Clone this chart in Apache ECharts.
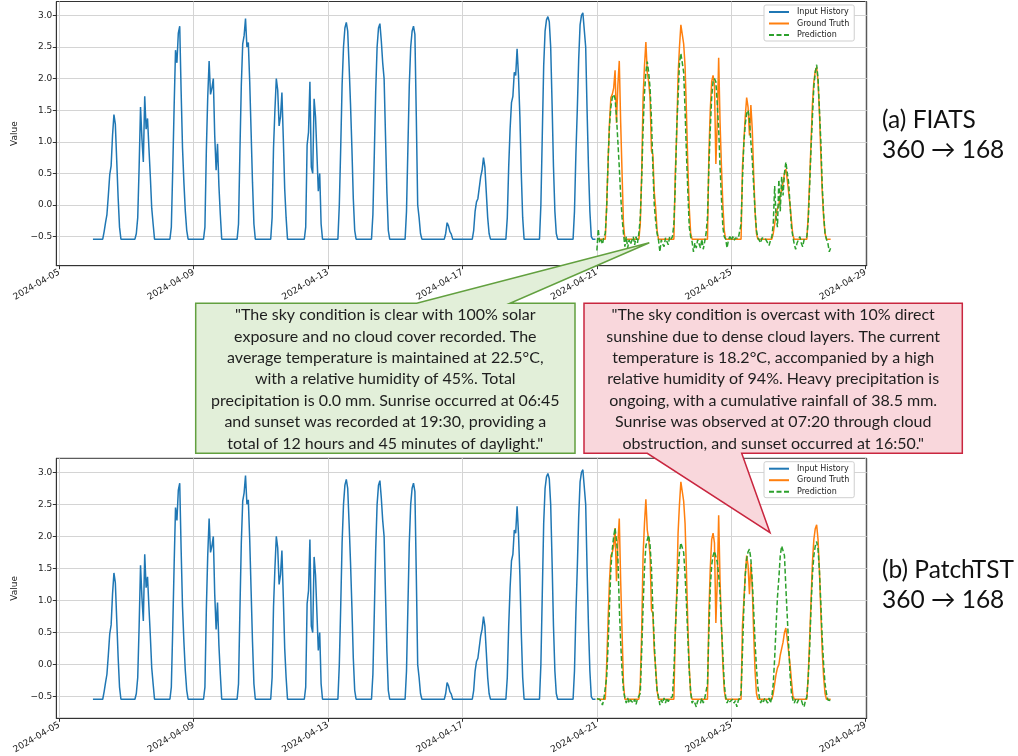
<!DOCTYPE html>
<html>
<head>
<meta charset="utf-8">
<title>FIATS vs PatchTST, 360 -> 168</title>
<script src="https://cdn.jsdelivr.net/npm/echarts@6/dist/echarts.min.js"></script>
<style>
  html, body { margin: 0; padding: 0; background: #fff; }
  #chart { width: 1018px; height: 756px; }
</style>
</head>
<body>
<div id="chart"></div>
<script>
// x values are hours since 2024-04-06 00:00 (hourly series)
const xTickHours = [-24, 72, 168, 264, 360, 456, 552];
const xTickLabels = ['2024-04-05', '2024-04-09', '2024-04-13', '2024-04-17', '2024-04-21', '2024-04-25', '2024-04-29'];
const yTicks = [-0.5, 0, 0.5, 1, 1.5, 2, 2.5, 3];
const seriesNames = ['Input History', 'Ground Truth', 'Prediction'];

// input history, 360 h (vertices of the drawn line)
const inputHistory = [
  [0, -0.54], [7, -0.54], [8, -0.42], [9, -0.28], [10, -0.15], [11, 0.15], [12, 0.48], [13, 0.62], [14, 1.1], [15, 1.43], [16, 1.28], [17, 0.7], [18, 0.12], [19, -0.35], [20, -0.54],
  [30, -0.54], [31, -0.45], [32, -0.2], [33, 0.6], [34, 1.55], [35, 1.05], [36, 0.68], [37, 1.72], [38, 1.2], [39, 1.37], [40, 0.9], [41, 0.45], [42, -0.05], [43, -0.3], [44, -0.54],
  [55, -0.54], [56, -0.35], [57, 0.55], [58, 1.55], [59, 2.45], [60, 2.25], [61, 2.72], [62, 2.83], [63, 1.8], [64, 0.9], [65, 0.35], [66, -0.1], [67, -0.4], [68, -0.54],
  [79, -0.54], [80, -0.35], [81, 0.85], [82, 1.7], [83, 2.28], [84, 1.75], [85, 1.85], [86, 2.0], [87, 1.1], [88, 0.55], [89, 0.97], [90, 0.3], [91, -0.15], [92, -0.54],
  [103, -0.54], [104, -0.3], [105, 0.85], [106, 1.9], [107, 2.55], [108, 2.68], [109, 2.95], [110, 2.5], [111, 2.57], [112, 1.95], [113, 1.15], [114, 0.35], [115, -0.3], [116, -0.54],
  [127, -0.54], [128, -0.2], [129, 0.9], [130, 1.5], [131, 2.0], [132, 1.82], [133, 1.25], [134, 1.4], [135, 1.78], [136, 1.05], [137, 0.25], [138, -0.2], [139, -0.54],
  [151, -0.54], [152, -0.35], [153, 0.95], [154, 1.15], [155, 1.95], [156, 0.6], [157, 0.5], [158, 1.68], [159, 1.4], [160, 1.43], [161, 0.22], [162, 0.5], [163, -0.3], [164, -0.54],
  [175, -0.54], [176, 0.0], [177, 0.9], [178, 1.9], [179, 2.5], [180, 2.8], [181, 2.89], [182, 2.75], [183, 2.2], [184, 1.6], [185, 0.9], [186, 0.1], [187, -0.4], [188, -0.54],
  [199, -0.54], [200, -0.15], [201, 0.8], [202, 1.8], [203, 2.5], [204, 2.8], [205, 2.87], [206, 2.6], [207, 2.25], [208, 2.0], [209, 1.1], [210, 0.2], [211, -0.4], [212, -0.54],
  [223, -0.54], [224, -0.1], [225, 0.9], [226, 1.9], [227, 2.5], [228, 2.75], [229, 2.83], [230, 2.7], [231, 1.4], [232, 0.0], [233, -0.2], [234, -0.45], [235, -0.54],
  [251, -0.54], [252, -0.45], [253, -0.28], [254, -0.33], [255, -0.42], [256, -0.46], [257, -0.54],
  [271, -0.54], [272, -0.4], [273, -0.1], [274, 0.05], [275, 0.1], [276, 0.13], [277, 0.45], [278, 0.55], [279, 0.75], [280, 0.6], [281, 0.2], [282, -0.2], [283, -0.45], [284, -0.54],
  [295, -0.54], [296, -0.2], [297, 0.6], [298, 1.2], [299, 1.62], [300, 1.72], [301, 2.1], [302, 2.05], [303, 2.47], [304, 2.05], [305, 1.4], [306, 0.5], [307, -0.2], [308, -0.54],
  [319, -0.54], [320, 0.0], [321, 1.1], [322, 2.2], [323, 2.75], [324, 2.93], [325, 2.98], [326, 2.9], [327, 2.5], [328, 1.6], [329, 0.6], [330, -0.1], [331, -0.45], [332, -0.54],
  [343, -0.54], [344, -0.1], [345, 0.8], [346, 1.5], [347, 2.3], [348, 2.85], [349, 3.0], [350, 3.04], [351, 3.02], [352, 2.5], [353, 1.5], [354, 0.6], [355, -0.1], [356, -0.5], [357, -0.54], [359, -0.54]
];

// ground truth, next 168 h (same in both panels)
const groundTruth = [
  [360, -0.54], [366, -0.54], [367, 0.0], [368, 0.7], [369, 1.3], [370, 1.7], [371, 1.75], [372, 1.85], [373, 2.13], [374, 1.3], [375, 1.9], [376, 2.28], [377, 1.3], [378, 0.5], [379, -0.3], [380, -0.54],
  [390, -0.54], [391, -0.3], [392, 0.5], [393, 1.7], [394, 2.2], [395, 2.58], [396, 2.1], [397, 1.95], [398, 1.7], [399, 0.85], [400, 0.8], [401, 0.2], [402, -0.05], [403, -0.4], [404, -0.54],
  [415, -0.54], [416, 0.5], [417, 1.1], [418, 2.05], [419, 2.5], [420, 2.85], [421, 2.7], [422, 2.55], [423, 2.2], [424, 1.45], [425, 0.6], [426, -0.05], [427, -0.45], [428, -0.54],
  [439, -0.54], [440, 0.8], [441, 1.5], [442, 1.95], [443, 2.05], [444, 1.9], [445, 0.65], [446, 1.3], [447, 2.33], [448, 1.3], [449, 0.6], [450, 0.0], [451, -0.4], [452, -0.54],
  [463, -0.54], [464, 0.6], [465, 1.0], [466, 1.4], [467, 1.7], [468, 1.55], [469, 1.1], [470, 1.58], [471, 1.2], [472, 0.5], [473, -0.1], [474, -0.45], [475, -0.54],
  [485, -0.54], [486, -0.45], [487, -0.3], [488, -0.15], [489, -0.05], [490, 0.0], [491, 0.15], [492, 0.25], [493, 0.35], [494, 0.5], [495, 0.57], [496, 0.4], [497, 0.2], [498, 0.0], [499, -0.25], [500, -0.48], [501, -0.54],
  [510, -0.54], [511, -0.15], [512, 0.4], [513, 1.0], [514, 1.6], [515, 1.95], [516, 2.12], [517, 2.18], [518, 1.95], [519, 1.45], [520, 0.8], [521, 0.2], [522, -0.2], [523, -0.45], [524, -0.54], [527, -0.54]
];

// (a) FIATS prediction
const predFiats = [
  [360, -0.72], [361, -0.38], [362, -0.6], [363, -0.55], [364, -0.62], [365, -0.5], [366, -0.45], [367, -0.05], [368, 0.7], [369, 1.25], [370, 1.55], [371, 1.7], [372, 1.75], [373, 1.68], [374, 1.4], [375, 1.0], [376, 0.6], [377, 0.15], [378, -0.2], [379, -0.45], [380, -0.66], [381, -0.5], [382, -0.68], [383, -0.55], [384, -0.62],
  [385, -0.6], [386, -0.5], [387, -0.63], [388, -0.5], [389, -0.6], [390, -0.45], [391, -0.2], [392, 0.4], [393, 1.2], [394, 1.77], [395, 2.1], [396, 2.27], [397, 2.1], [398, 1.85], [399, 1.35], [400, 0.6], [401, 0.0], [402, -0.25], [403, -0.45], [404, -0.55], [405, -0.74], [406, -0.55], [407, -0.62], [408, -0.66],
  [409, -0.52], [410, -0.55], [411, -0.63], [412, -0.5], [413, -0.54], [414, -0.5], [415, -0.3], [416, 0.3], [417, 1.2], [418, 1.7], [419, 2.25], [420, 2.4], [421, 2.42], [422, 2.1], [423, 1.5], [424, 0.8], [425, 0.2], [426, -0.35], [427, -0.5], [428, -0.58], [429, -0.74], [430, -0.6], [431, -0.68], [432, -0.55],
  [433, -0.58], [434, -0.68], [435, -0.54], [436, -0.7], [437, -0.58], [438, -0.45], [439, -0.2], [440, 0.6], [441, 1.2], [442, 1.7], [443, 1.95], [444, 2.0], [445, 1.95], [446, 1.6], [447, 1.2], [448, 0.6], [449, 0.1], [450, -0.35], [451, -0.5], [452, -0.54], [453, -0.68], [454, -0.55], [455, -0.5], [456, -0.56],
  [457, -0.5], [458, -0.56], [459, -0.52], [460, -0.54], [461, -0.53], [462, -0.5], [463, -0.3], [464, 0.4], [465, 0.98], [466, 1.28], [467, 1.45], [468, 1.5], [469, 1.35], [470, 1.0], [471, 0.72], [472, 0.3], [473, -0.1], [474, -0.4], [475, -0.52], [476, -0.55], [477, -0.6], [478, -0.52], [479, -0.55], [480, -0.52],
  [481, -0.54], [482, -0.6], [483, -0.64], [484, -0.56], [485, -0.5], [486, -0.3], [487, 0.3], [488, -0.2], [489, -0.35], [490, 0.4], [491, -0.1], [492, 0.45], [493, 0.15], [494, 0.5], [495, 0.68], [496, 0.66], [497, 0.35], [498, 0.0], [499, -0.35], [500, -0.5], [501, -0.62], [502, -0.7], [503, -0.6], [504, -0.55],
  [505, -0.5], [506, -0.6], [507, -0.66], [508, -0.55], [509, -0.53], [510, -0.5], [511, -0.25], [512, 0.3], [513, 0.9], [514, 1.4], [515, 1.88], [516, 2.1], [517, 2.22], [518, 2.0], [519, 1.5], [520, 1.0], [521, 0.3], [522, -0.15], [523, -0.45], [524, -0.54], [525, -0.6], [526, -0.74], [527, -0.68]
];

// (b) PatchTST prediction
const predPatch = [
  [360, -0.53], [361, -0.52], [362, -0.54], [363, -0.55], [364, -0.63], [365, -0.53], [366, -0.5], [367, -0.2], [368, 0.3], [369, 0.9], [370, 1.5], [371, 1.8], [372, 2.0], [373, 2.13], [374, 1.94], [375, 1.68], [376, 0.9], [377, 0.35], [378, -0.1], [379, -0.4], [380, -0.52], [381, -0.6], [382, -0.52], [383, -0.6], [384, -0.55],
  [385, -0.52], [386, -0.6], [387, -0.54], [388, -0.62], [389, -0.53], [390, -0.5], [391, -0.45], [392, 0.2], [393, 0.9], [394, 1.5], [395, 1.85], [396, 1.95], [397, 2.02], [398, 1.86], [399, 1.5], [400, 0.85], [401, 0.35], [402, -0.1], [403, -0.4], [404, -0.5], [405, -0.63], [406, -0.55], [407, -0.6], [408, -0.52],
  [409, -0.6], [410, -0.52], [411, -0.58], [412, -0.53], [413, -0.55], [414, -0.5], [415, -0.1], [416, 0.5], [417, 1.0], [418, 1.4], [419, 1.75], [420, 1.9], [421, 1.92], [422, 1.75], [423, 1.4], [424, 0.95], [425, 0.4], [426, -0.1], [427, -0.42], [428, -0.6], [429, -0.56], [430, -0.6], [431, -0.66], [432, -0.56],
  [433, -0.55], [434, -0.6], [435, -0.52], [436, -0.6], [437, -0.53], [438, -0.5], [439, -0.3], [440, 0.5], [441, 1.2], [442, 1.55], [443, 1.7], [444, 1.77], [445, 1.75], [446, 1.6], [447, 1.4], [448, 1.1], [449, 0.6], [450, 0.15], [451, -0.3], [452, -0.5], [453, -0.6], [454, -0.54], [455, -0.58], [456, -0.55],
  [457, -0.54], [458, -0.6], [459, -0.56], [460, -0.66], [461, -0.56], [462, -0.52], [463, -0.45], [464, 0.2], [465, 0.9], [466, 1.4], [467, 1.65], [468, 1.76], [469, 1.8], [470, 1.65], [471, 1.3], [472, 0.85], [473, 0.35], [474, -0.05], [475, -0.35], [476, -0.5], [477, -0.6], [478, -0.54], [479, -0.58], [480, -0.52],
  [481, -0.54], [482, -0.6], [483, -0.52], [484, -0.6], [485, -0.5], [486, -0.3], [487, 0.1], [488, 0.6], [489, 1.05], [490, 1.35], [491, 1.7], [492, 1.85], [493, 1.87], [494, 1.7], [495, 1.2], [496, 0.75], [497, 0.3], [498, -0.15], [499, -0.45], [500, -0.55], [501, -0.6], [502, -0.54], [503, -0.6], [504, -0.55],
  [505, -0.58], [506, -0.55], [507, -0.62], [508, -0.66], [509, -0.56], [510, -0.5], [511, -0.2], [512, 0.25], [513, 0.9], [514, 1.4], [515, 1.7], [516, 1.85], [517, 1.92], [518, 1.8], [519, 1.45], [520, 0.95], [521, 0.4], [522, 0.0], [523, -0.3], [524, -0.45], [525, -0.55], [526, -0.58], [527, -0.56]
];

const greenNote = [
  '"The sky condition is clear with 100% solar',
  'exposure and no cloud cover recorded. The',
  'average temperature is maintained at 22.5°C,',
  'with a relative humidity of 45%. Total',
  'precipitation is 0.0 mm. Sunrise occurred at 06:45',
  'and sunset was recorded at 19:30, providing a',
  'total of 12 hours and 45 minutes of daylight."'
];
const redNote = [
  '"The sky condition is overcast with 10% direct',
  'sunshine due to dense cloud layers. The current',
  'temperature is 18.2°C, accompanied by a high',
  'relative humidity of 94%. Heavy precipitation is',
  'ongoing, with a cumulative rainfall of 38.5 mm.',
  'Sunrise was observed at 07:20 through cloud',
  'obstruction, and sunset occurred at 16:50."'
];
const panelLabels = [['(a) FIATS', '360 \u2192 168'], ['(b) PatchTST', '360 \u2192 168']];

const tickFont = { fontFamily: 'DejaVu Sans', fontSize: 9, color: '#222' };
const gridColor = '#d4d4d4';

function makeXAxis(i) {
  return {
    type: 'value', gridIndex: i, min: -26.17, max: 552.75,
    axisLine: { show: true, onZero: false, lineStyle: { color: '#333', width: 1 } },
    axisTick: { show: true, customValues: xTickHours, length: 3.5, lineStyle: { color: '#333' } },
    axisLabel: Object.assign({
      customValues: xTickHours, rotate: 30, margin: 6,
      formatter: function (v) { return xTickLabels[xTickHours.indexOf(v)] || ''; }
    }, tickFont),
    splitLine: { show: true, lineStyle: { color: gridColor, width: 1 } }
  };
}

function makeYAxis(i, min, max) {
  return {
    type: 'value', gridIndex: i, min: min, max: max,
    name: 'Value', nameLocation: 'middle', nameGap: 35,
    nameTextStyle: { fontFamily: 'DejaVu Sans', fontSize: 9, color: '#222' },
    axisLine: { show: true, onZero: false, lineStyle: { color: '#333', width: 1 } },
    axisTick: { show: true, customValues: yTicks, length: 3.5, lineStyle: { color: '#333' } },
    axisLabel: Object.assign({
      customValues: yTicks, margin: 4,
      formatter: function (v) { return v.toFixed(1).replace('-', '\u2212'); }
    }, tickFont),
    splitLine: { show: true, lineStyle: { color: gridColor, width: 1 } }
  };
}

function makeLine(name, data, i, color, dashed) {
  return {
    name: name, type: 'line', xAxisIndex: i, yAxisIndex: i, data: data,
    symbol: 'none', showSymbol: false, silent: true,
    lineStyle: { color: color, width: 1.5, type: dashed ? [5, 2.5] : 'solid' },
    itemStyle: { color: color }
  };
}

function makeLegend(top) {
  return {
    data: seriesNames, orient: 'vertical', left: 764, top: top,
    padding: [3, 5, 2, 4], itemWidth: 20, itemHeight: 8, itemGap: 3.5,
    borderColor: '#cfcfcf', borderWidth: 1, borderRadius: 2, backgroundColor: '#fff',
    selectedMode: false,
    itemStyle: { opacity: 0 },
    textStyle: { fontFamily: 'DejaVu Sans', fontSize: 8, color: '#222', padding: [0, 0, 0, 3] }
  };
}

function noteTexts(lines, cx, y0) {
  return lines.map(function (t, k) {
    return {
      type: 'text', x: cx, y: y0 + k * 21.4, z: 101,
      style: { text: t, font: '16px Lato', fill: '#1e1e1e', align: 'center', verticalAlign: 'middle' }
    };
  });
}

function panelText(lines, y0) {
  return lines.map(function (t, k) {
    return {
      type: 'text', x: 882, y: y0 + k * 30, z: 101,
      style: { text: t, font: '24.5px Lato', fill: '#111', align: 'left', verticalAlign: 'middle' }
    };
  });
}

const chart = echarts.init(document.getElementById('chart'), null, { renderer: 'canvas' });

chart.setOption({
  animation: false,
  backgroundColor: '#fff',
  grid: [
    { left: 56.3, top: 1.5, width: 810.4, height: 264.2, show: true, borderColor: '#333', borderWidth: 1 },
    { left: 56.3, top: 458.3, width: 810.4, height: 260, show: true, borderColor: '#333', borderWidth: 1 }
  ],
  xAxis: [makeXAxis(0), makeXAxis(1)],
  yAxis: [makeYAxis(0, -0.96, 3.22), makeYAxis(1, -0.837, 3.218)],
  legend: [makeLegend(5), makeLegend(461.7)],
  series: [
    makeLine(seriesNames[0], inputHistory, 0, '#1f77b4', false),
    makeLine(seriesNames[1], groundTruth, 0, '#ff7f0e', false),
    makeLine(seriesNames[2], predFiats, 0, '#2ca02c', true),
    makeLine(seriesNames[0], inputHistory, 1, '#1f77b4', false),
    makeLine(seriesNames[1], groundTruth, 1, '#ff7f0e', false),
    makeLine(seriesNames[2], predPatch, 1, '#2ca02c', true)
  ],
  graphic: {
    elements: [
      {
        type: 'polygon', z: 100,
        shape: { points: [[195.7, 303.3], [416.7, 303.3], [649.3, 242.7], [510, 303.3], [575, 303.3], [575, 453.3], [195.7, 453.3]] },
        style: { fill: '#e2efd9', stroke: '#62a03f', lineWidth: 1.5 }
      },
      {
        type: 'polygon', z: 100,
        shape: { points: [[584, 303.3], [962.3, 303.3], [962.3, 453.3], [741.7, 453.3], [770, 532.7], [647.3, 453.3], [584, 453.3]] },
        style: { fill: '#f9d7dc', stroke: '#c9263f', lineWidth: 1.5 }
      }
    ].concat(noteTexts(greenNote, 385.3, 315))
     .concat(noteTexts(redNote, 773.2, 315))
     .concat(panelText(panelLabels[0], 120))
     .concat(panelText(panelLabels[1], 570))
  }
});
</script>
</body>
</html>
